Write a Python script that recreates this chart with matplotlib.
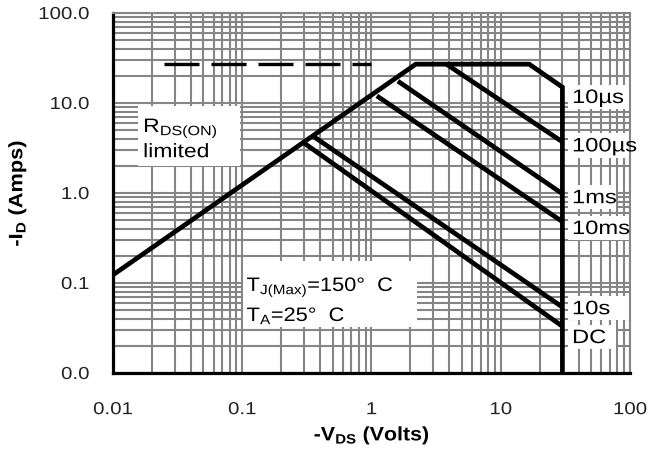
import matplotlib.pyplot as plt
from matplotlib.patches import Rectangle
from matplotlib.patheffects import AbstractPathEffect
from matplotlib.ticker import FixedLocator, LogLocator, NullFormatter
from matplotlib.transforms import Affine2D

plt.rcParams['font.family'] = ['Liberation Sans', 'DejaVu Sans']
plt.rcParams['mathtext.fontset'] = 'custom'
plt.rcParams['mathtext.rm'] = 'Liberation Sans'
plt.rcParams['mathtext.bf'] = 'Liberation Sans:bold'

# Safe operating area boundaries (-V_DS in volts, -I_D in amps)
env_v = [0.01, 2.2, 16.6, 30, 30]      # 10us envelope incl. R_DS(on) limit
env_i = [0.123, 27, 27, 15, 0.01]
us100_v = [3.8, 30]
us100_i = [27, 3.7]
ms1_v = [1.6, 30]
ms1_i = [17.5, 0.98]
ms10_v = [1.1, 30]
ms10_i = [12.0, 0.48]
s10_v = [0.36, 30]
s10_i = [4.2, 0.054]
dc_v = [0.30, 30]
dc_i = [3.6, 0.033]
lim_v = [0.025, 1.0]                    # dashed package current limit
lim_i = [27, 27]

curve_names = ['10µs', '100µs', '1ms', '10ms', '10s', 'DC']
name_i = [10.0, 2.9, 0.77, 0.35, 0.045, 0.0215]   # label baselines
name_box_right = [100, 100, 78, 100, 100, 78]

xticks = [0.01, 0.1, 1, 10, 100]
xlabels = ['0.01', '0.1', '1', '10', '100']
yticks = [0.01, 0.1, 1, 10, 100]
ylabels = ['0.0', '0.1', '1.0', '10.0', '100.0']


class Widen(AbstractPathEffect):
    """Draw text glyphs stretched along the reading direction."""

    def __init__(self, sx, anchor='left'):
        super().__init__()
        self.sx = sx
        self.anchor = anchor

    def draw_path(self, renderer, gc, tpath, affine, rgbFace=None):
        xs = tpath.vertices[:, 0]
        x0 = {'left': xs.min(), 'center': (xs.min() + xs.max()) / 2,
              'right': xs.max()}[self.anchor]
        widen = Affine2D().translate(-x0, 0).scale(self.sx, 1).translate(x0, 0)
        renderer.draw_path(gc, tpath, widen + affine, rgbFace)


fig = plt.figure(figsize=(6.49, 4.52), dpi=100)
ax = fig.add_axes([0.1741, 0.1726, 0.7966, 0.7964])
ax.set_xscale('log')
ax.set_yscale('log')
ax.set_xlim(0.01, 100)
ax.set_ylim(0.01, 100)

grid_color = '#858585'
ax.xaxis.set_minor_locator(LogLocator(base=10, subs=range(2, 10)))
ax.yaxis.set_minor_locator(LogLocator(base=10, subs=range(2, 10)))
ax.xaxis.set_minor_formatter(NullFormatter())
ax.yaxis.set_minor_formatter(NullFormatter())
ax.grid(True, which='both', color=grid_color, linewidth=1.5)
ax.set_axisbelow(True)

ax.xaxis.set_major_locator(FixedLocator(xticks))
ax.yaxis.set_major_locator(FixedLocator(yticks))
ax.set_xticklabels(xlabels)
ax.set_yticklabels(ylabels)
ax.tick_params(which='both', length=0, labelsize=12.5, colors='#222222')
ax.tick_params(axis='x', pad=21)
ax.tick_params(axis='y', pad=17)
plt.setp(ax.get_xticklabels(), path_effects=[Widen(1.18, 'center')])
plt.setp(ax.get_yticklabels(), path_effects=[Widen(1.18, 'right')])

for s in ['left', 'bottom']:
    ax.spines[s].set_linewidth(2.3)
    ax.spines[s].set_color('black')
for s in ['top', 'right']:
    ax.spines[s].set_linewidth(1.5)
    ax.spines[s].set_color(grid_color)

line_kw = dict(color='black', linewidth=3.4, solid_capstyle='butt',
               solid_joinstyle='miter', zorder=4)
ax.plot(env_v, env_i, **line_kw)
ax.plot(us100_v, us100_i, **line_kw)
ax.plot(ms1_v, ms1_i, **line_kw)
ax.plot(ms10_v, ms10_i, **line_kw)
ax.plot(s10_v, s10_i, **line_kw)
ax.plot(dc_v, dc_i, **line_kw)
ax.plot(lim_v, lim_i, color='black', linewidth=2.4,
        linestyle=(0, (10.5, 3.6)), dash_capstyle='butt', zorder=4)


def white_box(x0, x1, y0, y1):
    ax.add_patch(Rectangle((x0, y0), x1 - x0, y1 - y0, facecolor='white',
                           edgecolor='none', zorder=2))


# pulse-width labels on the right
for name, y, xr in zip(curve_names, name_i, name_box_right):
    white_box(33, xr, y / 1.17, y * 1.6)
    ax.text(35.6, y, name, fontsize=14, va='baseline', ha='left',
            path_effects=[Widen(1.22)], zorder=3)

white_box(0.0156, 0.0955, 2.0, 9.26)
ax.text(0.0171, 4.76, 'R$_\\mathregular{DS(ON)}$', fontsize=14,
        va='baseline', ha='left', path_effects=[Widen(1.18)], zorder=3)
ax.text(0.0171, 2.5, 'limited', fontsize=14, va='baseline', ha='left',
        path_effects=[Widen(1.18)], zorder=3)

white_box(0.101, 2.26, 0.0325, 0.175)
ax.text(0.108, 0.0815, 'T$_\\mathregular{J(Max)}$=150°  C', fontsize=14,
        va='baseline', ha='left', path_effects=[Widen(1.12)], zorder=3)
ax.text(0.108, 0.0378, 'T$_\\mathregular{A}$=25°  C', fontsize=14,
        va='baseline', ha='left', path_effects=[Widen(1.12)], zorder=3)

ax.set_xlabel('-V$_\\mathbf{DS}$ (Volts)', fontsize=14, fontweight='bold',
              path_effects=[Widen(1.1, 'center')])
ax.set_ylabel('-I$_\\mathbf{D}$ (Amps)', fontsize=14, fontweight='bold',
              path_effects=[Widen(1.12, 'center')])
ax.xaxis.label.set_va('center')
ax.yaxis.label.set_va('center')
ax.xaxis.set_label_coords(0.501, -0.175)
ax.yaxis.set_label_coords(-0.184, 0.5)

fig.savefig('out.png', dpi=100)
